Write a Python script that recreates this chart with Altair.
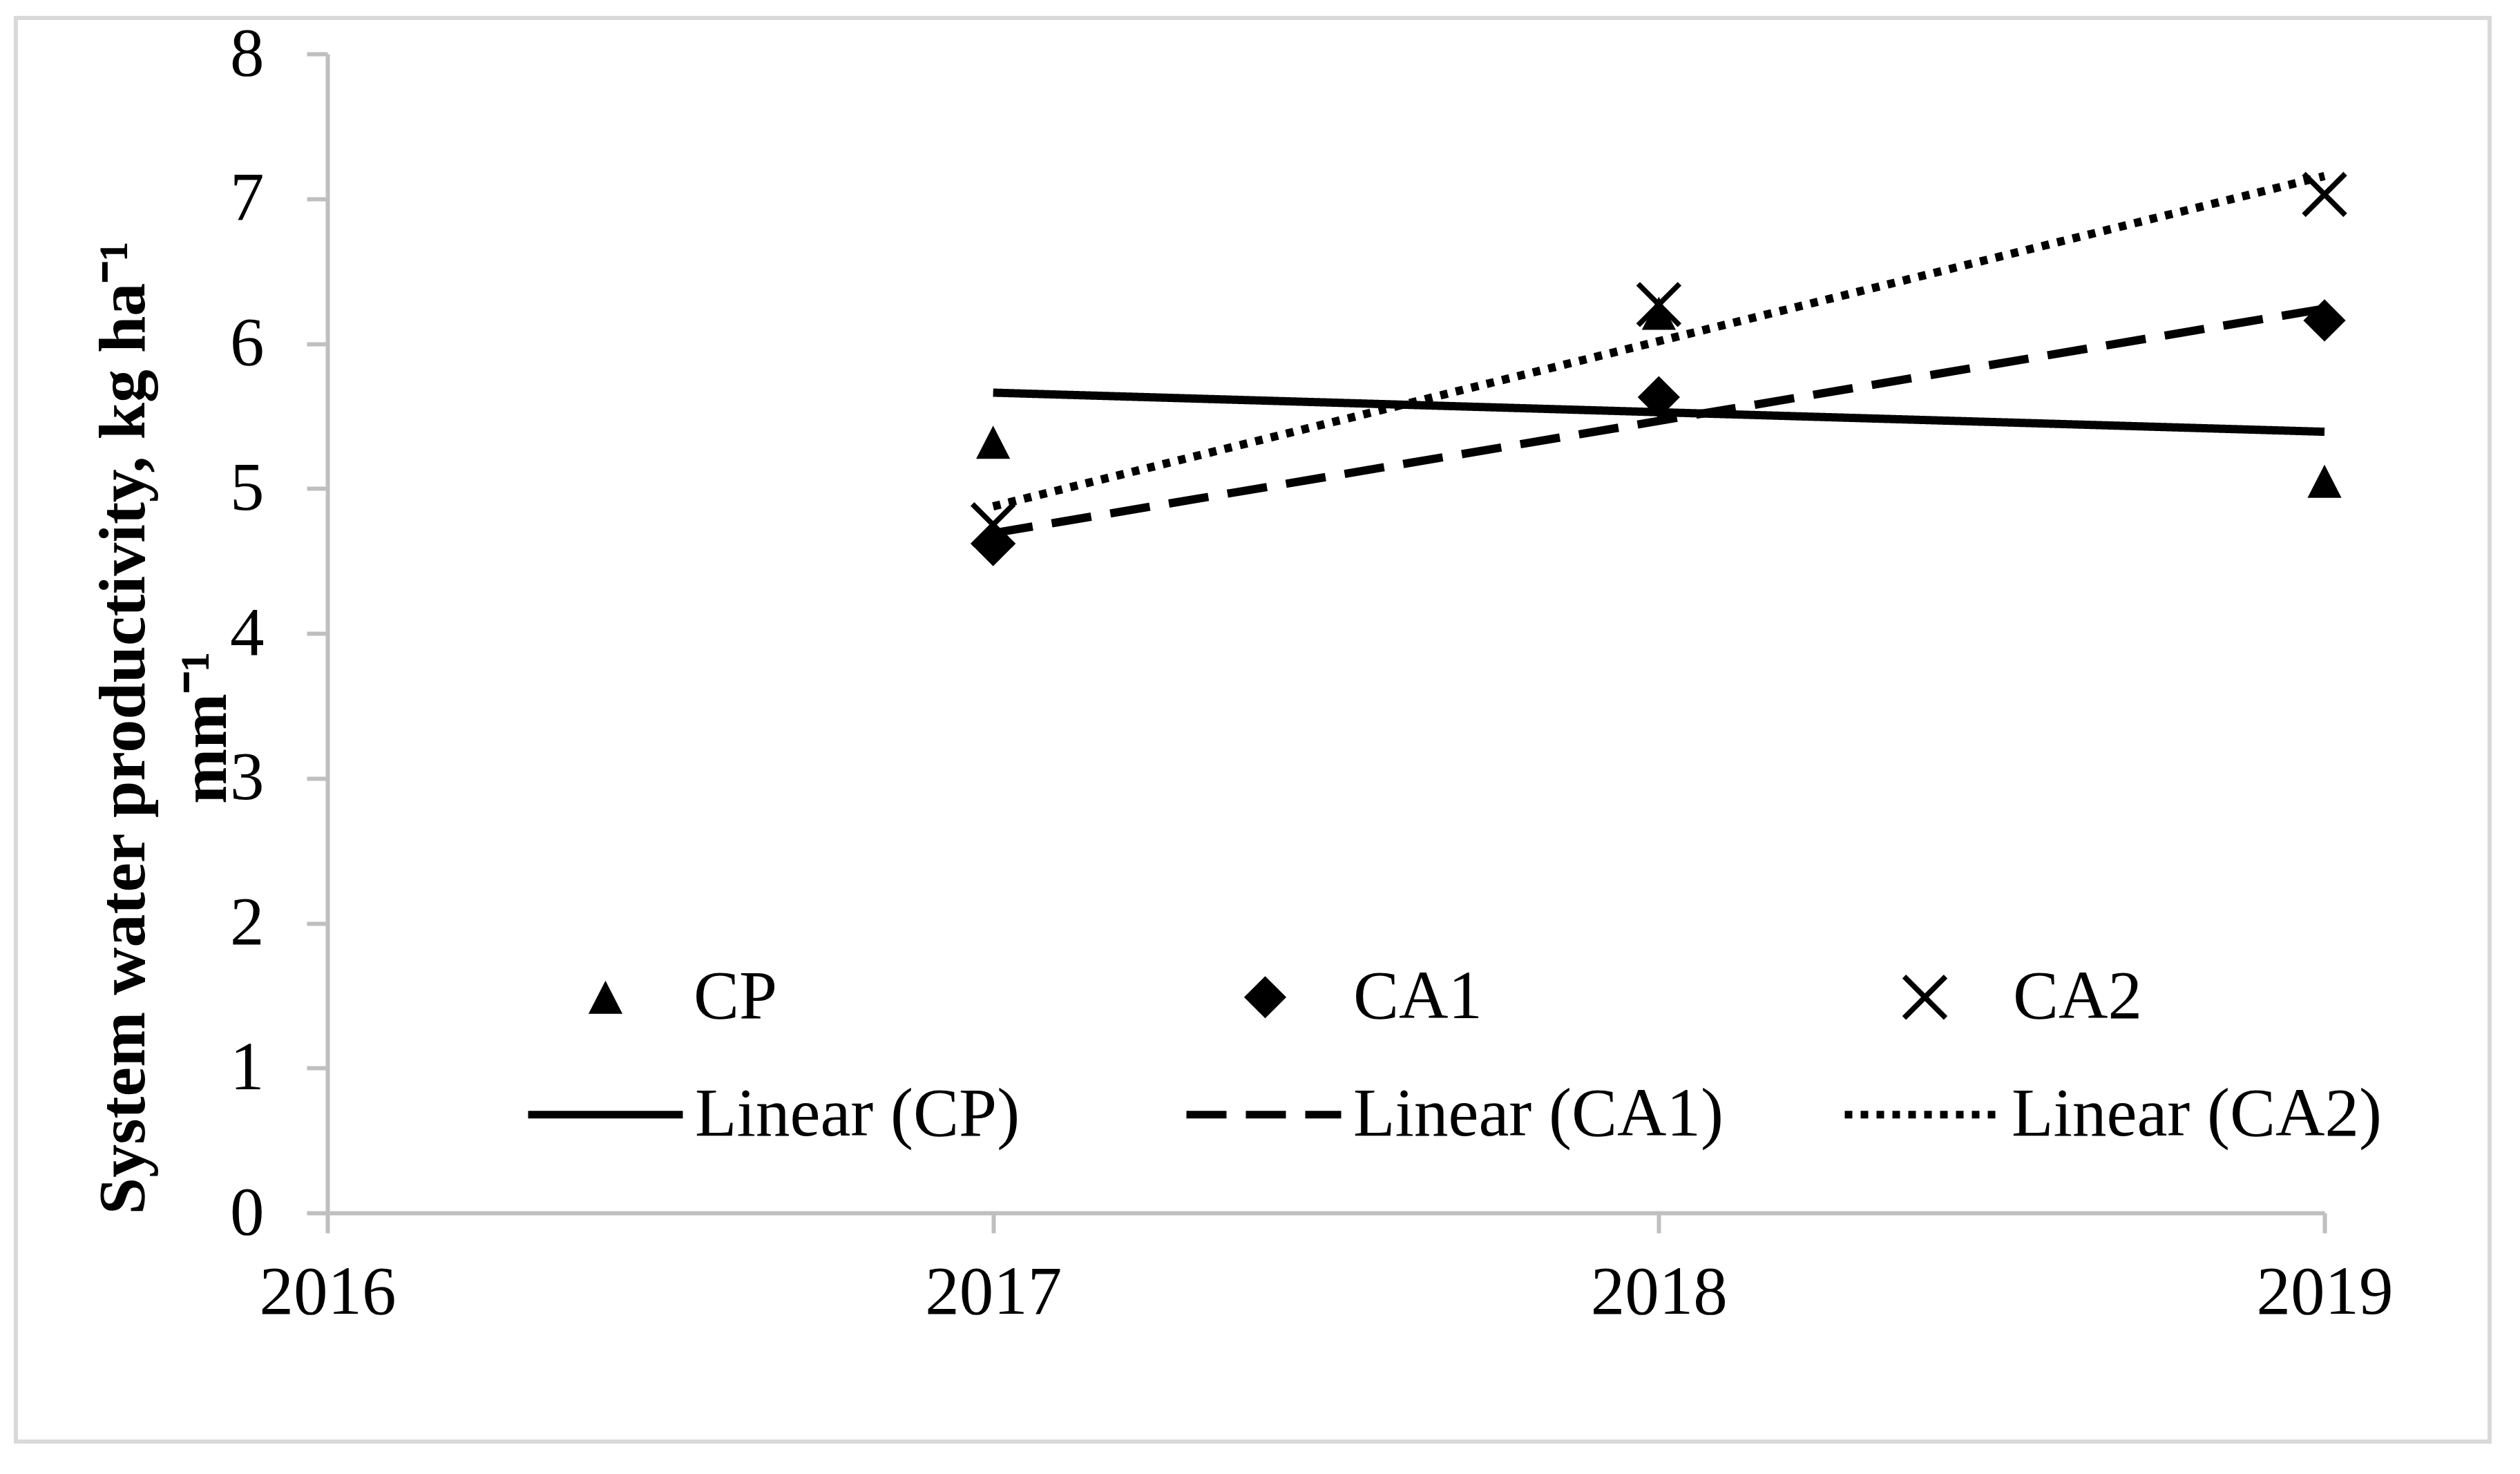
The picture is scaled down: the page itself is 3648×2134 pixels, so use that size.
import altair as alt
import pandas as pd

# ---- data ----
years = [2017, 2018, 2019]
series_names = ["CP", "CA1", "CA2"]
cp_values = [5.32, 6.21, 5.05]
ca1_values = [4.61, 5.63, 6.16]
ca2_values = [4.75, 6.27, 7.03]
trend_names = ["Linear (CP)", "Linear (CA1)", "Linear (CA2)"]
x_ticks = [2016, 2017, 2018, 2019]
y_ticks = [0, 1, 2, 3, 4, 5, 6, 7, 8]
y_title = ["System water productivity, kg ha\u207b\u00b9", "mm\u207b\u00b9"]

rows = []
for name, vals in zip(series_names, [cp_values, ca1_values, ca2_values]):
    for yr, v in zip(years, vals):
        rows.append({"year": yr, "value": v, "series": name})
df = pd.DataFrame(rows)

# ---- marker shapes (unit paths) ----
TRI = "M0,-0.8L0.82,0.8L-0.82,0.8Z"
DIA = "M0,-1.02L1.02,0L0,1.02L-1.02,0Z"
d = 0.09
a = 1.0
def f(v):
    return f"{v:.3f}"
XSHAPE = (
    f"M{f(-a+d)},{f(-a-d)}L{f(a+d)},{f(a-d)}L{f(a-d)},{f(a+d)}L{f(-a-d)},{f(-a+d)}Z"
    f"M{f(-a-d)},{f(a-d)}L{f(a-d)},{f(-a-d)}L{f(a+d)},{f(-a+d)}L{f(-a+d)},{f(a+d)}Z"
)

FONT = "Liberation Serif"
AXIS_GRAY = "#bfbfbf"

x_enc = alt.X(
    "year:Q",
    scale=alt.Scale(domain=[2016, 2019], nice=False, zero=False),
    axis=alt.Axis(
        values=x_ticks, format="d", title=None, grid=False,
        domainColor=AXIS_GRAY, domainWidth=6, tickColor=AXIS_GRAY, tickWidth=6,
        tickSize=29, labelFont=FONT, labelFontSize=99, labelColor="black",
        labelPadding=38, labelFlush=False, labelLimit=1000, labelOverlap=False,
    ),
)
y_enc = alt.Y(
    "value:Q",
    scale=alt.Scale(domain=[0, 8], nice=False, zero=True),
    axis=alt.Axis(
        values=y_ticks, title=y_title, grid=False,
        domainColor=AXIS_GRAY, domainWidth=6, tickColor=AXIS_GRAY, tickWidth=6,
        tickSize=30, labelFont=FONT, labelFontSize=99, labelColor="black",
        labelPadding=62, labelFlush=False, labelLimit=1000, labelOverlap=False,
        titleFont=FONT, titleFontSize=96, titleFontWeight="bold", titleColor="black",
        titleLineHeight=118, titleAngle=270, titleAlign="center",
        titleBaseline="alphabetic", titleX=-266, titleY=975, titleLimit=3000,
    ),
)

points = alt.Chart(df).mark_point(filled=True, size=3600, color="black", opacity=1).encode(
    x=x_enc,
    y=y_enc,
    shape=alt.Shape(
        "series:N",
        scale=alt.Scale(domain=series_names, range=[TRI, DIA, XSHAPE]),
        legend=alt.Legend(
            title=None, orient="none", legendX=353, legendY=1316,
            direction="horizontal", columns=3, gridAlign="all", columnPadding=590,
            symbolSize=3600, symbolFillColor="black", symbolStrokeWidth=0,
            symbolOpacity=1, labelFont=FONT, labelFontSize=99, labelColor="black",
            labelOffset=78, labelLimit=2000, padding=0,
        ),
    ),
)

lines = (
    alt.Chart(df)
    .transform_regression("year", "value", groupby=["series"], extent=[2017, 2019])
    .transform_calculate(trend='"Linear (" + datum.series + ")"')
    .mark_line(color="black", strokeWidth=12, strokeCap="butt")
    .encode(
        x=x_enc,
        y=y_enc,
        strokeDash=alt.StrokeDash(
            "trend:N",
            scale=alt.Scale(domain=trend_names, range=[[1, 0], [58, 28], [11, 12]]),
            legend=alt.Legend(
                title=None, orient="none", legendX=285, legendY=1418,
                direction="horizontal", columns=3, gridAlign="all", columnPadding=152,
                symbolType="stroke", symbolSize=224 * 224, symbolStrokeWidth=11,
                symbolStrokeColor="black", symbolOpacity=1,
                labelFont=FONT, labelFontSize=99, labelColor="black",
                labelOffset=12, labelLimit=2000, padding=0,
            ),
        ),
    )
)

frame = alt.Chart(alt.Data(values=[{"f": 1}])).mark_rect(
    fillOpacity=0, stroke="#d9d9d9", strokeWidth=6
).encode(
    x=alt.value(-451), x2=alt.value(3130), y=alt.value(-52), y2=alt.value(2009)
)

chart = (
    alt.layer(frame, points, lines)
    .resolve_legend(shape="independent", strokeDash="independent")
    .properties(
        width=2891, height=1678, background="white",
        padding={"left": 12, "top": 15, "right": 5, "bottom": 5},
    )
    .configure_view(stroke=None)
)

chart.save("out.html", embed_options={"renderer": "svg", "actions": False})
